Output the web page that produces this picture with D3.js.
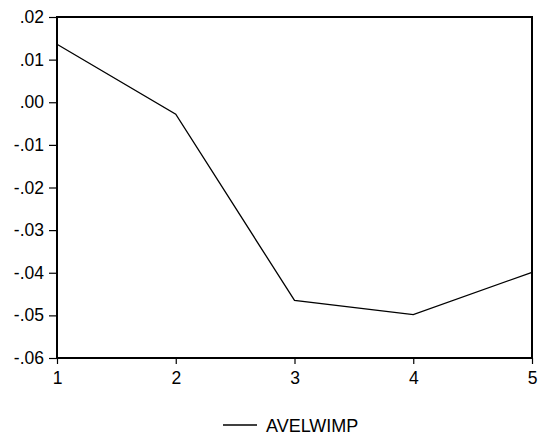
<!DOCTYPE html>
<html><head><meta charset="utf-8">
<script src="https://cdn.jsdelivr.net/npm/d3@7"></script>
<style>body{margin:0;background:#fff}svg{display:block}text{font-family:"Liberation Sans",Arial,sans-serif;font-size:17px;fill:#000}</style>
</head><body><svg id="c" width="542" height="439"></svg>
<script>
const periods = [1, 2, 3, 4, 5];
const avelwimp = [0.0136, -0.0028, -0.0465, -0.0498, -0.0399];
const yTicks = [0.02, 0.01, 0.00, -0.01, -0.02, -0.03, -0.04, -0.05, -0.06];
const yTickLabels = [".02", ".01", ".00", "-.01", "-.02", "-.03", "-.04", "-.05", "-.06"];
const seriesName = "AVELWIMP";

const svg = d3.select("#c");
const L = 57, R = 532, T = 17, B = 358;
const x = d3.scaleLinear().domain([1, 5]).range([L, R]);
const y = d3.scaleLinear().domain([-0.06, 0.02]).range([B, T]);
const FONT = '"Liberation Sans",Arial,sans-serif';

const yAxis = d3.axisLeft(y).tickValues(yTicks).tickSize(8).tickPadding(5)
  .tickFormat((d, i) => yTickLabels[i]);
const gy = svg.append("g").attr("transform", `translate(${L},0)`).call(yAxis);
gy.attr("font-size", null).attr("font-family", null);
gy.select(".domain").remove();
gy.selectAll("line").attr("stroke", "#000").attr("stroke-width", 1.2);
gy.selectAll("text").style("font-size", "17.5px").style("font-family", FONT);

const xAxis = d3.axisBottom(x).tickValues(periods).tickSize(6).tickPadding(8).tickFormat(d3.format("d"));
const gx = svg.append("g").attr("transform", `translate(0,${B})`).call(xAxis);
gx.attr("font-size", null).attr("font-family", null);
gx.select(".domain").remove();
gx.selectAll("line").attr("stroke", "#000").attr("stroke-width", 1.2);
gx.selectAll("text").style("font-size", "17.5px").style("font-family", FONT);

svg.append("rect").attr("x", L).attr("y", T).attr("width", R - L).attr("height", B - T)
  .attr("fill", "none").attr("stroke", "#000").attr("stroke-width", 2);

const line = d3.line().x((d, i) => x(periods[i])).y(d => y(d));
svg.append("path").datum(avelwimp).attr("d", line).attr("fill", "none")
  .attr("stroke", "#000").attr("stroke-width", 1.3);

const lg = svg.append("g");
lg.append("line").attr("x1", 223).attr("x2", 257).attr("y1", 425).attr("y2", 425).attr("stroke", "#000").attr("stroke-width", 1.3);
lg.append("text").attr("x", 266).attr("y", 432).style("font-size", "18px").text(seriesName);
</script></body></html>
